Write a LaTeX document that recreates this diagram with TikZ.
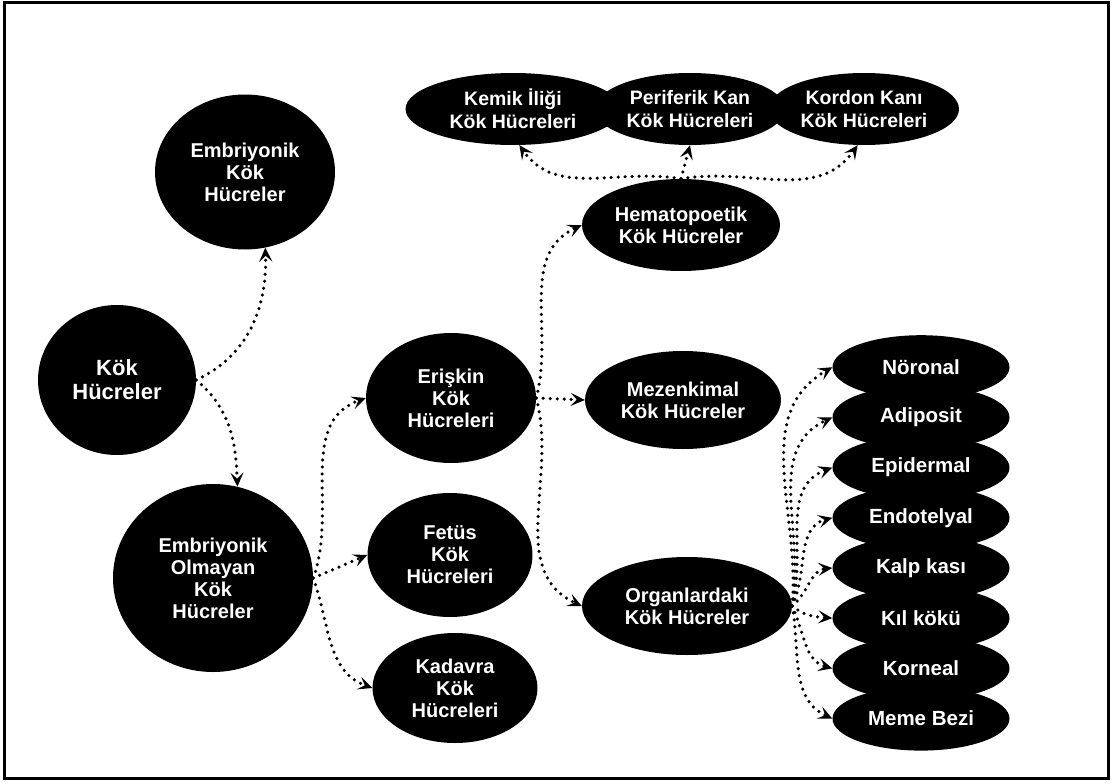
\documentclass[tikz,border=0pt]{standalone}
\usepackage{fontspec}
\setmainfont{Liberation Sans}
\usetikzlibrary{shapes.geometric,arrows.meta}

\begin{document}
\begin{tikzpicture}[x=1pt,y=-1pt,
  cell/.style={ellipse,fill=black,text=white,inner sep=0pt,align=center,
    font=\bfseries\fontsize{20}{22}\selectfont},
  tissue/.style={cell,minimum width=177pt,minimum height=64pt,
    font=\bfseries\fontsize{20.5}{22}\selectfont},
  source/.style={cell,minimum width=200pt,minimum height=72pt,
    font=\bfseries\fontsize{19.5}{23}\selectfont},
  link/.style={line width=3.5pt,dash pattern=on 0pt off 7pt,line cap=round,
    -{Stealth[length=14pt,width=13pt,inset=6pt]}}]
  \useasboundingbox (0,0) rectangle (1114,784);
  \draw[line width=3pt] (4,3) rectangle (1108,778);

  % left part
  \node[cell,minimum width=158pt,minimum height=150pt,
    font=\bfseries\fontsize{22}{24}\selectfont] (kok) at (117,380) {Kök\\Hücreler};
  \node[cell,minimum width=180pt,minimum height=155pt] (embriyonik) at (245,172) {Embriyonik\\Kök\\Hücreler};
  \node[cell,minimum width=200pt,minimum height=188pt] (olmayan) at (213,578) {Embriyonik\\Olmayan\\Kök\\Hücreler};

  % middle part
  \node[cell,minimum width=170pt,minimum height=130pt] (eriskin) at (451,398) {Erişkin\\Kök\\Hücreleri};
  \node[cell,minimum width=165pt,minimum height=124pt] (fetus) at (450,555) {Fetüs\\Kök\\Hücreleri};
  \node[cell,minimum width=165pt,minimum height=110pt] (kadavra) at (455,688) {Kadavra\\Kök\\Hücreleri};

  \node[cell,minimum width=198pt,minimum height=92pt] (hemato) at (681,225) {Hematopoetik\\Kök Hücreler};
  \node[cell,minimum width=196pt,minimum height=98pt] (mezenkimal) at (683,400) {Mezenkimal\\Kök Hücreler};
  \node[cell,minimum width=210pt,minimum height=98pt] (organ) at (687,606) {Organlardaki\\Kök Hücreler};

  % top row
  \node[source,minimum width=215pt] (kemik) at (513,109) {Kemik İliği\\Kök Hücreleri};
  \node[source,minimum width=190pt] (periferik) at (690,109) {Periferik Kan\\Kök Hücreleri};
  \node[source,minimum width=190pt] (kordon) at (864,109) {Kordon Kanı\\Kök Hücreleri};

  % right column
  \foreach \name/\text [count=\k] in {noronal/Nöronal,adiposit/Adiposit,
      epidermal/Epidermal,endotelyal/Endotelyal,kalp/Kalp kası,
      kil/Kıl kökü,korneal/Korneal,meme/Meme Bezi}
    \node[tissue] (\name) at (921,317+50.2*\k) {\text};

  % connectors
  \draw[link] (kok.east) to[out=25,in=-88] (embriyonik.-75);
  \draw[link] (kok.east) to[out=-40,in=92] (olmayan.75);

  \draw[link] (olmayan.east) to[out=70,in=200] (eriskin.west);
  \draw[link] (olmayan.east) -- (fetus.west);
  \draw[link] (olmayan.east) to[out=-70,in=160] (kadavra.west);

  \draw[link] (eriskin.east) to[out=75,in=205] (hemato.west);
  \draw[link] (eriskin.east) -- (mezenkimal.west);
  \draw[link] (eriskin.east) to[out=-75,in=155] (organ.west);

  \draw[link] (hemato.north) to[out=170,in=-55] (kemik.-80);
  \draw[link] (hemato.north) -- (periferik.south);
  \draw[link] (hemato.north) to[out=10,in=-125] (kordon.-100);

  \foreach \name/\out/\in in {noronal/85/210,adiposit/80/205,epidermal/75/200,
      endotelyal/65/195,kalp/40/185,kil/-40/175,korneal/-65/165,meme/-80/155}
    \draw[link] (organ.east) to[out=\out,in=\in] (\name.west);
\end{tikzpicture}
\end{document}
